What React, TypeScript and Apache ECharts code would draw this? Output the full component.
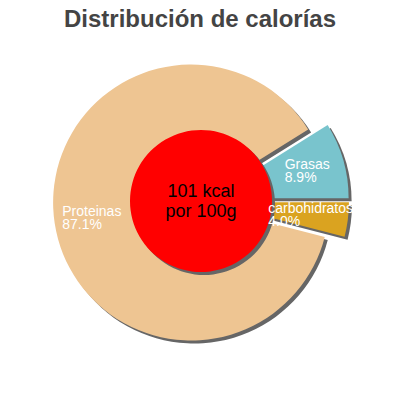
import { useEffect, useRef } from "react";
import * as echarts from "echarts";

const title = "Distribución de calorías";
const centerText = ["101 kcal", "por 100g"];
const categories = ["Grasas", "carbohidratos", "Proteinas"];
const percentages = [8.9, 4.0, 87.1];
const sliceColors = ["#79C4CD", "#DAA320", "#EEC592"];

const FONT = "'Liberation Sans', Arial, sans-serif";
const CX = 201;
const CY = 201;
const R = 138;
const R_HOLE = 71;
const R_LABEL_INNER = 57;
const SHADOW = "#666666";

export default function App(): JSX.Element {
  const rootRef = useRef<HTMLDivElement | null>(null);

  useEffect(() => {
    if (!rootRef.current) return undefined;
    document.body.style.margin = "0";
    const chart = echarts.init(rootRef.current, undefined, { renderer: "svg" });

    const slices = (color?: string) =>
      categories.map((name, i) => ({
        name,
        value: percentages[i],
        selected: true,
        itemStyle: { color: color ?? sliceColors[i] }
      }));

    const basePie = {
      type: "pie" as const,
      radius: [0, R],
      startAngle: 32,
      clockwise: true,
      selectedMode: "multiple" as const,
      selectedOffset: 10,
      silent: true,
      emphasis: { disabled: true },
      labelLine: { show: false }
    };

    const labelText = {
      fontFamily: FONT,
      fontSize: 14,
      lineHeight: 13,
      color: "#FFFFFF",
      align: "left" as const
    };

    const option: echarts.EChartsOption = {
      animation: false,
      title: {
        text: title,
        left: "center",
        top: 1,
        textStyle: {
          fontFamily: FONT,
          fontSize: 24,
          fontWeight: "bold",
          color: "#444444"
        }
      },
      series: [
        {
          ...basePie,
          center: [CX + 3, CY + 3],
          z: 1,
          label: { show: false },
          data: slices(SHADOW)
        },
        {
          ...basePie,
          center: [CX, CY],
          z: 2,
          label: { show: false },
          data: slices()
        },
        {
          type: "pie",
          center: [CX + 3, CY + 3],
          radius: [0, R_HOLE],
          silent: true,
          z: 3,
          emphasis: { disabled: true },
          label: { show: false },
          labelLine: { show: false },
          data: [{ value: 1, itemStyle: { color: SHADOW } }]
        },
        {
          type: "pie",
          center: [CX, CY],
          radius: [0, R_HOLE],
          silent: true,
          z: 4,
          emphasis: { disabled: true },
          labelLine: { show: false },
          label: {
            show: true,
            position: "center",
            formatter: centerText.join("\n"),
            fontFamily: FONT,
            fontSize: 18,
            lineHeight: 20,
            color: "#000000"
          },
          data: [{ value: 1, name: "kcal", itemStyle: { color: "#FF0000" } }]
        },
        {
          ...basePie,
          radius: [R_LABEL_INNER, R],
          center: [CX, CY],
          z: 5,
          label: {
            show: true,
            position: "inside",
            overflow: "none",
            formatter: (p: any) =>
              `{t|${p.name}}\n{t|${Number(p.percent).toFixed(1)}%}`,
            ...labelText,
            align: "center",
            rich: { t: labelText }
          },
          data: slices("rgba(0,0,0,0)")
        }
      ]
    };

    chart.setOption(option);

    return () => {
      chart.dispose();
    };
  }, []);

  return <div ref={rootRef} style={{ width: 400, height: 400 }} />;
}
